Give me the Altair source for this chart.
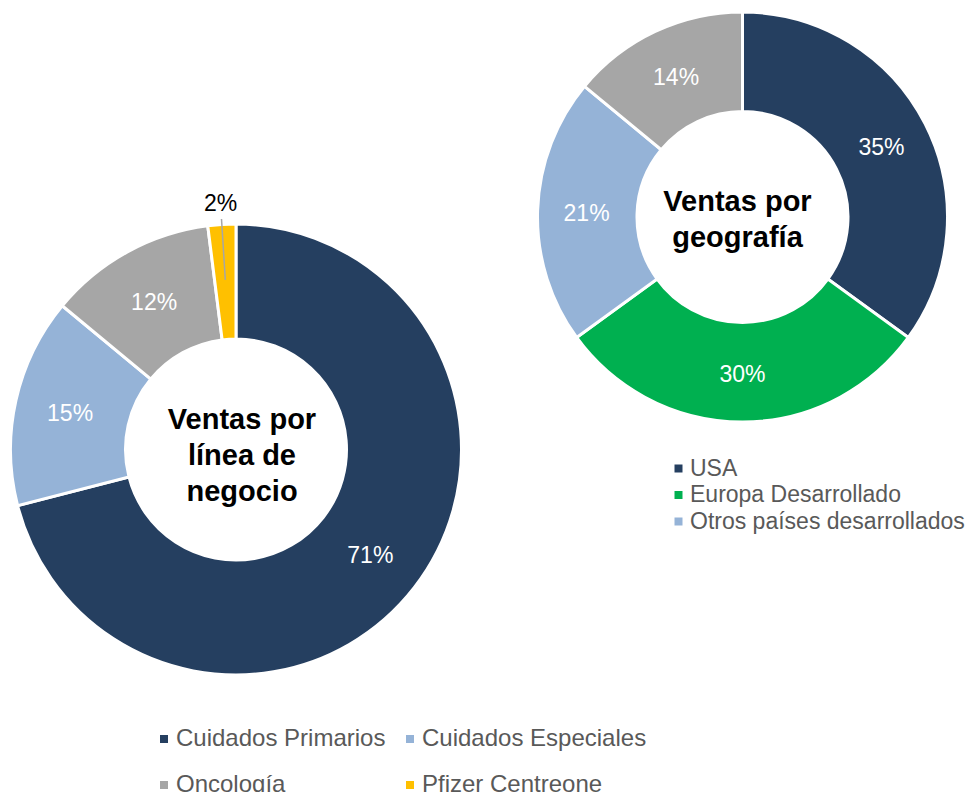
import altair as alt
import pandas as pd

# ---- data ----
linea_cats = ["Cuidados Primarios", "Cuidados Especiales", "Oncología", "Pfizer Centreone"]
linea_vals = [71, 15, 12, 2]
linea_colors = ["#253F60", "#95B3D7", "#A6A6A6", "#FFC000"]
linea_title = "Ventas por\nlínea de\nnegocio"

geo_cats = ["USA", "Europa Desarrollado", "Otros países desarrollados", "Mercados emergentes"]
geo_vals = [35, 30, 21, 14]
geo_colors = ["#253F60", "#00B050", "#95B3D7", "#A6A6A6"]
geo_legend = ["USA", "Europa Desarrollado", "Otros países desarrollados"]
geo_title = "Ventas por\ngeografía"

FONT = "Liberation Sans"


def make_df(cats, vals):
    return pd.DataFrame({"category": cats, "value": vals, "order": list(range(len(cats)))})


def donut(df, cats, colors, legend_vals, cx, cy, r_out, r_in, r_lab, title,
          tdx, tdy, legend_kw, leader=False):
    base = alt.Chart(df).encode(
        theta=alt.Theta("value:Q", stack=True),
        order=alt.Order("order:Q"),
    )
    arcs = base.mark_arc(stroke="white", strokeWidth=3).encode(
        color=alt.Color(
            "category:N",
            scale=alt.Scale(domain=cats, range=colors),
            legend=alt.Legend(
                title=None, orient="none",
                symbolType="square", symbolSize=64, symbolStrokeWidth=0,
                labelFont=FONT, labelColor="#595959",
                labelLimit=500, values=legend_vals, padding=0, **legend_kw,
            ),
        ),
        x=alt.value(cx), y=alt.value(cy),
        radius=alt.value(r_out), radius2=alt.value(r_in),
    )
    inner = base.transform_calculate(
        label="datum.value >= 5 ? datum.value + '%' : ''",
    ).mark_text(font=FONT, fontSize=23, baseline="middle", align="center",
                color="#FFFFFF", dy=2).encode(
        text="label:N",
        radius=alt.value(r_lab),
        x=alt.value(cx), y=alt.value(cy),
    )
    outer = base.transform_calculate(
        label="datum.value < 5 ? datum.value + '%' : ''",
    ).mark_text(font=FONT, fontSize=23, baseline="middle", align="center",
                color="#000000").encode(
        text="label:N",
        radius=alt.value(246),
        x=alt.value(cx), y=alt.value(cy),
    )
    ttl = alt.Chart(pd.DataFrame({"t": [title]})).mark_text(
        font=FONT, fontSize=29, fontWeight="bold", color="#000000",
        lineBreak="\n", lineHeight=36, align="center", baseline="middle",
        dx=tdx, dy=tdy,
    ).encode(text="t:N", x=alt.value(cx), y=alt.value(cy))
    layers = [arcs, inner, outer, ttl]
    if leader:
        ld = alt.Chart(df).transform_window(
            cum="sum(value)", sort=[alt.SortField("order")], frame=[None, 0]
        ).transform_calculate(
            mid="(datum.cum - datum.value / 2) / 100 * 2 * PI"
        ).transform_filter("datum.value < 5").transform_calculate(
            xa=f"{cx} + 170 * sin(datum.mid)",
            ya=f"{cy} - 170 * cos(datum.mid)",
            xb=f"{cx} + 231 * sin(datum.mid)",
            yb=f"{cy} - 231 * cos(datum.mid)",
        ).mark_rule(color="#A6A6A6", strokeWidth=1.5).encode(
            x=alt.X("xa:Q", scale=None, axis=None),
            y=alt.Y("ya:Q", scale=None, axis=None),
            x2="xb:Q", y2="yb:Q",
        )
        layers.append(ld)
    return alt.layer(*layers)


left = donut(
    make_df(linea_cats, linea_vals), linea_cats, linea_colors, linea_cats,
    cx=228, cy=441.5, r_out=225.5, r_in=110.5, r_lab=170, title=linea_title,
    tdx=6, tdy=-30,
    legend_kw=dict(legendX=144, legendY=719, direction="horizontal", columns=2,
                   columnPadding=12, rowPadding=22, labelOffset=0,
                   labelFontSize=24),
    leader=True,
)
right = donut(
    make_df(geo_cats, geo_vals), geo_cats, geo_colors, geo_legend,
    cx=734.5, cy=209, r_out=205, r_in=105.5, r_lab=156, title=geo_title,
    tdx=-5, tdy=-15,
    legend_kw=dict(legendX=659, legendY=449, direction="vertical", columns=1,
                   rowPadding=2.5, labelOffset=0, labelFontSize=23),
)

chart = alt.layer(left, right).resolve_scale(
    color="independent", theta="independent"
).properties(
    width=962, height=784, padding=0,
    autosize=alt.AutoSizeParams(type="none"),
).configure_view(stroke=None)

chart.save("out.html", embed_options={"renderer": "svg", "actions": False})
